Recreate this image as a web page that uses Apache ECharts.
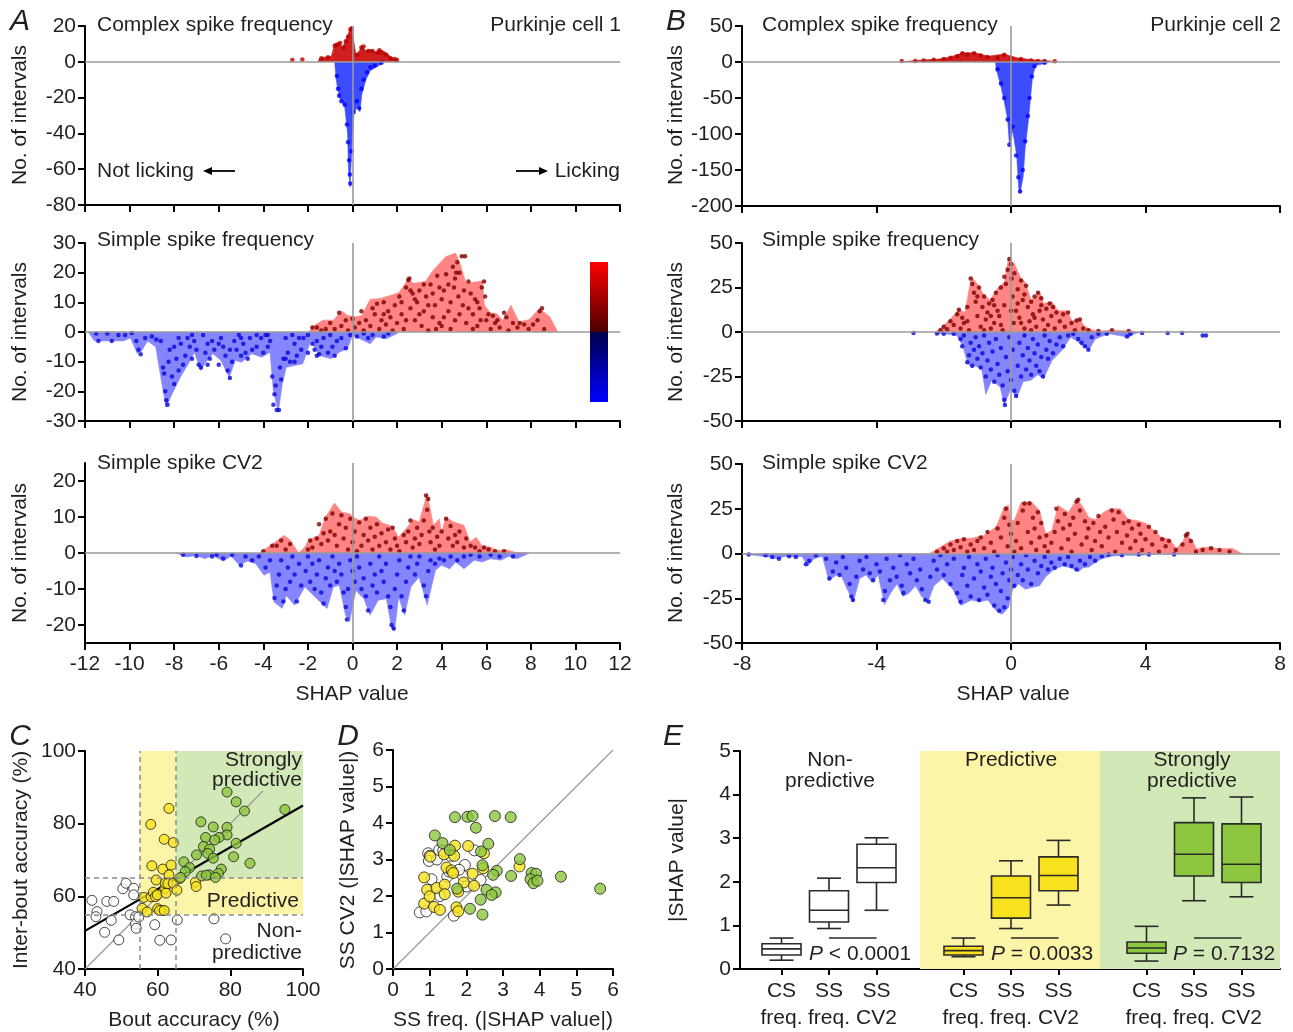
<!DOCTYPE html>
<html>
<head>
<meta charset="utf-8">
<script src="https://cdn.jsdelivr.net/npm/echarts@6/dist/echarts.min.js"></script>
<style>
  html, body { margin: 0; padding: 0; background: #ffffff; }
  #fig { width: 1293px; height: 1032px; }
</style>
</head>
<body>
<div id="fig"></div>
<script>
// ---------- Panel A: Purkinje cell 1 (SHAP value distributions) ----------
const a1RedEdge = [[-1.55,0],[-1.5,1.5],[-1.32,2.5],[-0.95,3],[-0.8,10],[-0.6,11],[-0.45,8],[-0.3,12],[-0.15,17],[-0.05,20],[0.05,12],[0.15,4],[0.3,6],[0.42,9],[0.6,6],[0.79,7],[1.06,5],[1.25,7],[1.52,5],[1.7,3],[1.89,1.5],[2.07,0]];
const a1BlueEdge = [[-0.8,0],[-0.73,-10],[-0.59,-20],[-0.35,-25],[-0.22,-40],[-0.18,-60],[-0.11,-70],[-0.02,-45],[0.07,-28],[0.24,-25],[0.33,-28],[0.42,-18],[0.6,-10],[0.79,-5],[1.06,-3],[1.34,-1],[1.43,0]];
const a1RedDots = [[-2.7,1],[-2.25,1.3],[-1.4,2],[-1.1,2.5],[-0.8,9],[-0.7,9.5],[-0.55,10.5],[-0.4,8],[-0.3,11.5],[-0.2,14],[-0.1,18],[-0.05,18.5],[0.2,4],[0.4,8],[0.5,8.5],[0.7,6],[0.9,6],[1.1,5],[1.2,6.5],[1.3,5],[1.5,4],[1.7,2],[1.9,1.5],[2.0,1]];
const a1BlueDots = [[-0.7,-8],[-0.65,-15],[-0.6,-19],[-0.5,-22],[-0.35,-24],[-0.25,-35],[-0.2,-45],[-0.15,-55],[-0.12,-63],[-0.1,-68],[-0.05,-50],[0.05,-28],[0.2,-22],[0.3,-26],[0.4,-15],[0.5,-10],[0.65,-6],[0.8,-3],[1.0,-2],[1.3,-0.5]];

const a2RedEdge = [[-1.96,0],[-1.78,1.9],[-1.32,4],[-0.86,4],[-0.49,7.1],[-0.22,5.6],[0.15,5.1],[0.42,5.6],[0.79,11],[1.25,11.3],[2.07,13.2],[2.53,18.1],[2.71,16.4],[3.26,17],[3.63,20.9],[4.18,25.4],[4.63,26.6],[4.82,23.2],[5.09,16.4],[5.82,17.2],[5.92,9],[6.19,6.4],[6.47,6.2],[6.74,4],[7.11,9],[7.47,3.4],[7.93,4.2],[8.39,7.9],[8.85,5.1],[9.21,0]];
const a2BlueEdge = [[-11.85,0],[-11.58,-3],[-10.29,-3],[-9.96,-2],[-9.65,-7.3],[-9.47,-6.5],[-9.19,-3],[-8.83,-5],[-8.37,-25.4],[-8.1,-21],[-7.73,-15.3],[-7.36,-10.7],[-7.09,-6.8],[-6.81,-13],[-6.63,-10.7],[-6.26,-7.3],[-5.9,-9.6],[-5.53,-15.3],[-5.26,-9.6],[-4.98,-10.2],[-4.52,-7.3],[-4.07,-8.5],[-3.7,-6.8],[-3.55,-19.8],[-3.33,-27],[-3.15,-17.5],[-2.97,-11.9],[-2.23,-10.7],[-1.87,-2.8],[-1.5,-7.9],[-0.95,-9],[-0.59,-6.8],[-0.22,-5.6],[0,-1.1],[0.33,-2.3],[0.79,-4],[1.06,-1.7],[1.52,-2.3],[1.98,-0.6],[2.07,0]];
const a2RedDots = [[-1.8,1.5],[-1.6,1.5],[-1.4,0.5],[-1.2,1],[-1.0,3],[-0.8,1],[-0.6,6.5],[-0.5,2],[-0.3,4],[-0.2,0.5],[0.0,4.5],[0.1,1.5],[0.3,3],[0.4,7],[0.5,0.5],[0.6,4],[0.8,2],[0.9,8],[1.0,6],[1.1,9.5],[1.2,1],[1.3,4],[1.4,10],[1.4,6],[1.5,2.5],[1.6,7],[1.7,5],[1.8,0.5],[1.9,9],[2.0,3],[2.1,12],[2.2,6],[2.2,10],[2.3,1],[2.4,15],[2.4,4],[2.5,17.5],[2.55,18],[2.6,8],[2.6,14],[2.7,13],[2.8,4],[2.8,11],[2.9,10],[3.0,14],[3.0,6],[3.1,2],[3.2,7],[3.2,16],[3.3,12],[3.4,0.5],[3.4,9],[3.5,16],[3.6,5],[3.6,13],[3.7,9],[3.75,1],[3.8,19],[3.9,3],[3.9,15],[4.0,11],[4.0,2],[4.1,14],[4.1,5],[4.2,19.5],[4.3,7],[4.3,16],[4.4,1],[4.4,10],[4.5,22],[4.55,15],[4.6,4],[4.6,18],[4.65,20],[4.7,23.5],[4.75,12],[4.8,20],[4.8,6],[4.9,25.5],[4.95,9],[5.0,14],[5.05,25.5],[5.1,3],[5.2,17],[5.2,8],[5.3,13],[5.4,6],[5.4,1],[5.5,11],[5.6,2],[5.6,10],[5.7,8],[5.75,4],[5.8,15],[5.9,17],[5.95,12],[6.0,4],[6.1,6],[6.2,1],[6.3,5.5],[6.4,3],[6.5,4],[6.6,1.5],[6.8,6.5],[6.9,5],[7.0,0.5],[7.2,3],[7.4,1.5],[7.5,3],[7.7,2.5],[7.9,1],[8.1,2.5],[8.3,4],[8.4,7],[8.5,8],[8.6,1]];
const a2BlueDots = [[-11.5,-0.5],[-11.4,-3],[-11.0,-0.5],[-10.8,-3],[-10.5,-1],[-10.2,-1],[-9.9,-0.3],[-9.7,-3],[-9.6,-6],[-9.5,-7.5],[-9.3,-2],[-9.0,-1.5],[-8.8,-2.5],[-8.6,-3],[-8.5,-12],[-8.45,-14],[-8.4,-20],[-8.35,-23],[-8.3,-24.5],[-8.25,-10],[-8.2,-6],[-8.1,-15],[-8.0,-17.5],[-8.0,-5],[-7.9,-9],[-7.8,-13],[-7.8,-2],[-7.7,-4],[-7.6,-11],[-7.5,-8],[-7.4,-2],[-7.3,-5],[-7.2,-9],[-7.2,-1],[-7.1,-3],[-7.0,-6],[-6.9,-11],[-6.8,-12],[-6.7,-1],[-6.6,-7],[-6.5,-4],[-6.5,-11],[-6.4,-9],[-6.3,-3],[-6.2,-6],[-6.0,-11],[-6.0,-4],[-5.9,-2],[-5.8,-5],[-5.7,-8],[-5.6,-13],[-5.5,-15.5],[-5.5,-6],[-5.4,-10],[-5.3,-3],[-5.2,-6],[-5.1,-1],[-5.0,-8],[-5.0,-2],[-4.9,-4],[-4.8,-7],[-4.7,-9],[-4.6,-2],[-4.5,-6],[-4.3,-5],[-4.3,-1],[-4.1,-2],[-4.0,-7],[-3.9,-1],[-3.8,-5],[-3.8,-1],[-3.7,-3],[-3.6,-15],[-3.55,-24.5],[-3.5,-21],[-3.45,-18],[-3.4,-26.3],[-3.3,-26.3],[-3.25,-12],[-3.2,-16],[-3.1,-9],[-3.0,-2],[-3.0,-9],[-2.9,-7],[-2.8,-10],[-2.7,-1],[-2.6,-4],[-2.6,-10],[-2.5,-8],[-2.4,-2],[-2.3,-6],[-2.2,-2],[-2.0,-1],[-2.0,-7],[-1.8,-4],[-1.7,-6],[-1.6,-8],[-1.6,-3],[-1.5,-7.5],[-1.4,-5],[-1.3,-2],[-1.1,-7],[-1.0,-1],[-0.9,-5],[-0.8,-8],[-0.7,-3],[-0.5,-2],[-0.3,-5.5],[-0.1,-1],[0.2,-1.5],[0.5,-0.5],[0.7,-2],[0.9,-1],[1.4,-1.5],[1.6,-0.5]];

const a3RedEdge = [[-4.16,0],[-3.97,0.9],[-3.61,2.4],[-3.06,4.9],[-2.78,3.5],[-2.42,0],[-2.14,1.7],[-1.96,3.7],[-1.5,4.9],[-1.23,9.8],[-0.81,13.9],[-0.49,11.4],[-0.13,10.9],[0.15,9.5],[0.33,9.1],[0.7,10.2],[1.06,10],[1.34,8.3],[1.79,7.4],[2.07,4.4],[2.44,7],[2.71,9.3],[2.99,8.6],[3.35,16.5],[3.63,7.7],[3.9,9.5],[3.99,5.4],[4.18,10],[4.54,8.6],[5.0,7.7],[5.27,3.1],[5.55,4.4],[5.82,1.9],[6.19,1.7],[6.47,0.7],[6.92,0.9],[7.29,0.2],[7.93,0]];
const a3BlueEdge = [[-7.91,0],[-7.45,-1.1],[-7.0,-0.7],[-6.63,-1.6],[-6.26,-0.7],[-5.81,-2.2],[-5.44,-0.9],[-5.07,-3.4],[-4.71,-2.2],[-4.34,-3],[-3.97,-6.2],[-3.7,-5.3],[-3.52,-13.6],[-3.15,-15.4],[-2.97,-11.8],[-2.6,-14.5],[-2.14,-9.4],[-1.68,-12.2],[-1.14,-15.4],[-0.86,-9.4],[-0.59,-9],[-0.31,-17.3],[-0.13,-19.1],[0.15,-10.4],[0.51,-12.7],[0.79,-17.3],[1.15,-13.1],[1.52,-12.7],[1.76,-21],[1.89,-21.5],[2.07,-12.2],[2.34,-17.3],[2.62,-9.4],[2.99,-6.7],[3.35,-14.5],[3.72,-4.8],[3.99,-3.4],[4.36,-4.4],[4.63,-2.5],[5.0,-4.4],[5.46,-2],[5.82,-2.5],[6.19,-1.6],[6.65,-2],[7.01,-0.9],[7.38,-1.6],[7.93,0]];
const a3RedDots = [[-4.0,0.5],[-3.6,2],[-3.4,2],[-3.2,3.5],[-3.0,1],[-2.8,2.5],[-2.0,1],[-1.9,3.5],[-1.8,1.5],[-1.6,4],[-1.5,8],[-1.4,2.5],[-1.3,5.5],[-1.2,9.5],[-1.1,3.5],[-1.0,6],[-0.9,11],[-0.8,5],[-0.7,2],[-0.6,8],[-0.5,10.5],[-0.4,4],[-0.3,7],[-0.2,1],[-0.1,9.5],[0.0,3],[0.1,6],[0.2,0.5],[0.3,8.5],[0.4,2],[0.5,5],[0.6,9.5],[0.7,3.5],[0.8,7],[0.9,1],[1.0,4.5],[1.1,8],[1.2,2],[1.3,5.5],[1.5,3],[1.6,6.5],[1.7,1],[1.8,7],[1.9,4],[2.0,2],[2.1,0.5],[2.3,5],[2.4,3],[2.5,6],[2.6,9],[2.7,1.5],[2.8,4],[2.9,7],[3.0,2.5],[3.1,5],[3.2,9],[3.3,16],[3.35,12],[3.4,15],[3.45,6],[3.5,3],[3.6,7],[3.7,1],[3.8,4.5],[3.9,2],[4.0,6],[4.2,9.5],[4.3,4],[4.4,7.5],[4.5,2],[4.6,5],[4.7,3],[4.8,6],[5.0,1.5],[5.1,4],[5.3,2],[5.5,1.5],[5.7,0.5],[5.9,1.5],[6.1,1],[6.4,0.5],[6.8,0.5]];
const a3BlueDots = [[-7.6,-0.5],[-7.0,-0.8],[-6.3,-1],[-6.1,-0.5],[-5.8,-1.5],[-5.4,-0.5],[-5.0,-3.5],[-4.8,-1],[-4.5,-2],[-4.2,-1],[-3.9,-4],[-3.7,-2],[-3.5,-12.5],[-3.4,-9],[-3.3,-6],[-3.2,-2],[-3.1,-13.5],[-3.0,-10],[-2.9,-4],[-2.8,-8],[-2.7,-1],[-2.6,-6],[-2.5,-13.5],[-2.4,-3],[-2.3,-9],[-2.1,-5],[-2.0,-1],[-1.9,-8],[-1.8,-3],[-1.7,-10],[-1.6,-6],[-1.5,-2],[-1.4,-11],[-1.3,-14],[-1.2,-7],[-1.1,-4],[-1.0,-9],[-0.9,-1],[-0.8,-5],[-0.7,-8],[-0.6,-3],[-0.5,-6],[-0.4,-11],[-0.3,-15],[-0.25,-18.5],[-0.2,-10],[-0.1,-2],[0.0,-5],[0.1,-8],[0.2,-1],[0.3,-4],[0.4,-10],[0.5,-7],[0.6,-12],[0.7,-16],[0.8,-3],[0.9,-9],[1.0,-6],[1.1,-11],[1.2,-1],[1.3,-5],[1.4,-8],[1.5,-3],[1.6,-12],[1.7,-15],[1.75,-20],[1.85,-21],[1.9,-10],[2.0,-6],[2.1,-2],[2.2,-12],[2.3,-16],[2.4,-8],[2.5,-4],[2.6,-1],[2.8,-6],[2.9,-3],[3.0,-1],[3.2,-9],[3.3,-12],[3.4,-5],[3.5,-2],[3.7,-3],[3.9,-1.5],[4.1,-2],[4.4,-1],[4.7,-2],[5.0,-1],[5.3,-0.5],[5.7,-1],[6.2,-0.5],[6.6,-1],[7.2,-1]];

// ---------- Panel B: Purkinje cell 2 ----------
const b1RedEdge = [[-3.3,0],[-3.25,1.5],[-2.84,2],[-2.53,3],[-2.16,4],[-1.8,7],[-1.43,13],[-1.06,13],[-0.69,8],[-0.2,11],[0.17,6],[0.66,3],[1.0,2],[1.28,1],[1.32,0]];
const b1BlueEdge = [[-0.46,0],[-0.44,-10],[-0.32,-30],[-0.2,-55],[-0.1,-80],[-0.04,-118],[0.05,-95],[0.17,-130],[0.23,-175],[0.27,-182],[0.36,-160],[0.42,-120],[0.52,-80],[0.57,-55],[0.64,-20],[0.73,-5],[1.09,-1],[1.12,0]];
const b1RedDots = [[-3.25,1.5],[-2.85,1.5],[-2.6,2],[-2.3,3],[-2.0,4],[-1.8,6],[-1.6,8],[-1.45,12],[-1.3,10],[-1.1,12],[-0.9,9],[-0.7,7],[-0.4,6],[-0.2,10],[0.0,5],[0.3,4],[0.6,2],[0.8,1.5],[1.0,1.5],[1.3,1]];
const b1BlueDots = [[-0.4,-10],[-0.3,-30],[-0.2,-50],[-0.1,-80],[-0.05,-115],[0.05,-90],[0.15,-130],[0.22,-160],[0.27,-180],[0.35,-150],[0.42,-110],[0.5,-75],[0.55,-50],[0.62,-20],[0.7,-6],[1.0,-1]];

const b2RedEdge = [[-2.23,0],[-2.04,3],[-1.8,7.5],[-1.55,12.5],[-1.37,11],[-1.18,31],[-1.0,27],[-0.81,21],[-0.63,18],[-0.38,25],[-0.2,28],[-0.07,42],[0.11,38],[0.3,30],[0.42,28],[0.6,18],[0.73,20],[0.85,23],[0.97,16],[1.22,17],[1.4,12],[1.65,12],[1.83,6],[2.02,7.5],[2.2,3],[2.45,1],[2.63,0.5],[3.06,1],[3.62,0.5],[3.7,0]];
const b2BlueEdge = [[-2.29,0],[-2.23,-1],[-1.98,-1],[-1.61,-2],[-1.43,-8],[-1.3,-17],[-1.18,-20],[-1.06,-19],[-0.87,-21],[-0.75,-35],[-0.57,-27],[-0.32,-31],[-0.2,-41],[-0.01,-32],[0.17,-37],[0.36,-28],[0.6,-27],[0.79,-24],[0.97,-26],[1.22,-16],[1.53,-10],[1.77,-3],[1.96,-5],[2.14,-8],[2.32,-10],[2.51,-4],[2.76,-2],[2.94,-1],[3.49,-3],[3.68,-1],[3.86,0]];
const b2RedDots = [[-2.1,1],[-2.0,3],[-1.9,1.5],[-1.8,6],[-1.7,4],[-1.6,10],[-1.55,12.5],[-1.5,2],[-1.45,8],[-1.4,5],[-1.3,14],[-1.3,6],[-1.25,1],[-1.2,30],[-1.15,27],[-1.1,22],[-1.05,17],[-1.0,9],[-1.0,20],[-0.95,25],[-0.9,3],[-0.85,14],[-0.8,20],[-0.8,1],[-0.75,7],[-0.7,11],[-0.65,16],[-0.6,2],[-0.6,9],[-0.55,18],[-0.5,5],[-0.5,15],[-0.45,22],[-0.4,12],[-0.35,9],[-0.3,25],[-0.3,4],[-0.25,1],[-0.2,15],[-0.2,31],[-0.15,27],[-0.1,35],[-0.05,41],[0.0,38],[0.0,12],[0.02,30],[0.05,20],[0.08,5],[0.1,33],[0.15,12],[0.2,24],[0.2,16],[0.25,8],[0.3,29],[0.3,5],[0.35,18],[0.4,2],[0.4,21],[0.45,26],[0.5,14],[0.55,6],[0.6,17],[0.6,1],[0.65,10],[0.7,20],[0.7,8],[0.75,3],[0.8,22],[0.85,12],[0.9,15],[0.9,19],[0.95,7],[1.0,1],[1.05,13],[1.1,4],[1.15,16],[1.2,9],[1.25,14],[1.3,2],[1.35,11],[1.45,6],[1.55,10],[1.6,3],[1.7,11],[1.8,5],[1.9,1],[1.95,6.5],[2.05,7],[2.15,2],[2.3,1],[2.6,0.5],[3.0,1],[3.5,0.5]];
const b2BlueDots = [[-2.9,-0.5],[-2.2,-0.8],[-2.0,-1],[-1.7,-1],[-1.5,-4],[-1.45,-8],[-1.4,-2],[-1.3,-17],[-1.25,-13],[-1.2,-6],[-1.15,-19],[-1.1,-10],[-1.05,-3],[-1.0,-15],[-0.95,-8],[-0.9,-20],[-0.85,-12],[-0.8,-2],[-0.75,-25],[-0.7,-16],[-0.65,-6],[-0.6,-21],[-0.55,-11],[-0.5,-28],[-0.45,-4],[-0.4,-18],[-0.35,-24],[-0.3,-9],[-0.25,-30],[-0.2,-38],[-0.18,-41],[-0.15,-14],[-0.1,-22],[-0.05,-3],[0.0,-27],[0.05,-10],[0.1,-33],[0.15,-36],[0.2,-19],[0.25,-6],[0.3,-25],[0.35,-13],[0.4,-2],[0.45,-21],[0.5,-9],[0.55,-16],[0.6,-24],[0.65,-4],[0.7,-12],[0.75,-19],[0.8,-7],[0.85,-22],[0.9,-14],[0.95,-25],[1.0,-2],[1.05,-10],[1.1,-15],[1.15,-5],[1.25,-12],[1.35,-7],[1.45,-3],[1.55,-8],[1.7,-2],[1.85,-1],[2.0,-4],[2.1,-6],[2.2,-8],[2.3,-10],[2.4,-3],[2.6,-1],[2.85,-1],[3.45,-2.5],[3.55,-1],[3.9,-0.5],[4.66,-0.5],[5.09,-0.5],[5.7,-2],[5.8,-2]];

const b3RedEdge = [[-2.41,0],[-2.29,1.5],[-1.8,7],[-1.43,8.5],[-1.18,8.5],[-0.81,10],[-0.44,15],[-0.2,26],[-0.07,27],[-0.01,18],[0.11,19],[0.3,28.5],[0.6,29],[0.85,24],[1.03,11],[1.22,13],[1.4,27],[1.71,23],[1.96,30.5],[2.14,26],[2.32,20],[2.51,19],[2.76,23],[2.94,25],[3.25,25],[3.49,19],[3.74,18.5],[3.99,17],[4.23,13],[4.48,9],[4.72,8],[4.91,3],[5.09,6],[5.22,11],[5.4,7],[5.52,2.5],[5.71,3.5],[5.95,3.5],[6.2,2.5],[6.57,3],[6.81,0.5],[6.87,0]];
const b3BlueEdge = [[-8.0,0],[-7.82,-0.5],[-7.21,-2],[-6.96,-3],[-6.72,-1.5],[-6.35,-2],[-6.22,-1.5],[-6.04,-7],[-5.86,-3],[-5.61,-1.5],[-5.42,-15],[-5.18,-12],[-5.06,-12],[-4.87,-20],[-4.69,-27],[-4.5,-14],[-4.32,-12],[-4.13,-16],[-3.95,-12],[-3.76,-28.5],[-3.58,-22],[-3.39,-17],[-3.21,-24],[-3.03,-22],[-2.84,-18],[-2.66,-24],[-2.47,-27],[-2.29,-18],[-2.04,-14],[-1.73,-20],[-1.49,-29],[-1.18,-26],[-0.93,-27],[-0.69,-26],[-0.44,-32],[-0.26,-34],[-0.07,-30],[0.05,-20],[0.23,-17],[0.42,-20],[0.6,-19],[0.85,-18],[1.03,-13],[1.28,-9],[1.53,-7],[1.77,-8],[2.02,-10],[2.14,-8],[2.32,-7.5],[2.51,-5],[2.69,-3],[3.0,-1.5],[3.37,-1],[3.86,-1],[4.17,-0.5],[4.85,-0.3],[4.95,0]];
const b3RedDots = [[-2.2,1],[-2.0,3],[-1.9,1],[-1.8,5],[-1.7,2],[-1.6,7],[-1.5,3.5],[-1.4,8],[-1.3,1],[-1.2,5],[-1.1,2],[-1.0,7],[-0.9,9],[-0.8,3],[-0.7,12],[-0.6,6],[-0.5,1],[-0.4,14],[-0.3,9],[-0.2,20],[-0.15,25],[-0.1,4],[-0.05,16],[0.0,11],[0.1,1],[0.15,7],[0.2,17],[0.3,3],[0.35,24],[0.4,28],[0.5,12],[0.55,28],[0.6,6],[0.65,20],[0.7,14],[0.75,2],[0.8,23],[0.85,9],[0.9,17],[1.0,4],[1.05,10],[1.1,1],[1.2,6],[1.3,12],[1.35,25],[1.4,18],[1.5,3],[1.55,14],[1.6,22],[1.7,8],[1.75,16],[1.8,1],[1.85,20],[1.9,11],[1.95,29],[2.0,30],[2.05,24],[2.1,5],[2.2,18],[2.25,9],[2.3,14],[2.4,2],[2.45,17],[2.5,7],[2.6,21],[2.65,12],[2.7,4],[2.8,15],[2.9,9],[3.0,24],[3.05,19],[3.1,1],[3.15,12],[3.2,23],[3.3,6],[3.35,17],[3.45,10],[3.5,18],[3.55,3],[3.6,14],[3.7,7],[3.8,16],[3.85,11],[3.9,2],[4.0,8],[4.1,15],[4.2,5],[4.3,12],[4.4,1],[4.5,8],[4.6,4],[4.7,7],[4.9,2],[5.1,5],[5.2,10],[5.25,11],[5.35,7],[5.5,1],[5.7,2],[5.95,3],[6.2,2],[6.5,1]];
const b3BlueDots = [[-7.8,-0.5],[-7.3,-1],[-7.1,-2],[-6.9,-3],[-6.6,-1.5],[-6.4,-2],[-6.1,-6],[-6.0,-4],[-5.8,-1],[-5.5,-3],[-5.4,-14],[-5.3,-10],[-5.2,-5],[-5.1,-12],[-5.0,-2],[-4.9,-8],[-4.8,-17],[-4.75,-24],[-4.7,-26],[-4.6,-13],[-4.5,-4],[-4.4,-9],[-4.3,-2],[-4.2,-11],[-4.1,-15],[-4.0,-6],[-3.9,-10],[-3.8,-26],[-3.75,-21],[-3.7,-3],[-3.6,-15],[-3.5,-8],[-3.4,-13],[-3.3,-1],[-3.25,-18],[-3.2,-22],[-3.1,-6],[-3.0,-11],[-2.9,-3],[-2.8,-15],[-2.7,-9],[-2.65,-20],[-2.55,-26],[-2.45,-27],[-2.4,-13],[-2.3,-4],[-2.2,-9],[-2.1,-1],[-2.0,-12],[-1.9,-6],[-1.8,-17],[-1.7,-3],[-1.6,-22],[-1.5,-27],[-1.45,-12],[-1.4,-8],[-1.3,-18],[-1.25,-2],[-1.2,-24],[-1.1,-14],[-1.0,-6],[-0.95,-26],[-0.9,-10],[-0.8,-19],[-0.75,-3],[-0.7,-23],[-0.6,-13],[-0.55,-8],[-0.5,-29],[-0.45,-17],[-0.4,-1],[-0.35,-32],[-0.3,-21],[-0.25,-11],[-0.2,-30],[-0.15,-5],[-0.1,-25],[-0.05,-15],[0.0,-9],[0.05,-2],[0.1,-18],[0.2,-12],[0.3,-6],[0.35,-15],[0.45,-1],[0.5,-9],[0.6,-17],[0.7,-4],[0.8,-11],[0.9,-7],[1.0,-2],[1.1,-9],[1.2,-5],[1.3,-8],[1.45,-3],[1.6,-6],[1.7,-2],[1.8,-7],[1.95,-9],[2.05,-4],[2.2,-6],[2.35,-2],[2.5,-4],[2.7,-1.5],[2.9,-0.5],[3.3,-1],[3.8,-0.5],[4.1,-0.5],[4.85,-0.5]];

// ---------- Panel C: inter-bout vs bout accuracy (%) ----------
const classBounds = [55, 65];
const cNonPredictive = [[41.9,58.9],[43.3,55.8],[43.0,54.4],[45.4,50.1],[46.0,58.6],[47.9,58.6],[47.2,53.4],[49.3,48.0],[50.4,62.1],[51.3,63.6],[52.4,54.9],[53.4,62.2],[53.4,60.4],[53.9,54.4],[53.9,52.4],[54.1,51.2],[54.8,54.3],[59.2,52.2],[60.6,47.9],[63.7,48.0],[65.4,53.5],[75.5,53.8],[78.7,48.3]];
const cPredictive = [[58.1,79.8],[58.4,68.4],[63.1,84.2],[61.8,75.7],[64.3,74.8],[61.4,67.5],[63.7,68.6],[59.6,64.5],[63.1,65.9],[56.2,59.7],[58.2,59.9],[58.8,61.1],[59.4,59.9],[59.9,60.4],[62.0,62.2],[62.3,60.9],[62.1,63.6],[62.8,63.5],[64.3,63.6],[65.3,61.7],[55.7,56.7],[57.1,55.7],[60.0,56.6],[61.1,56.1],[60.5,56.1],[61.8,56.1],[70.4,63.9],[70.6,62.7],[66.1,64.9]];
const cStrong = [[79.1,88.7],[81.6,86.0],[83.9,83.5],[95.0,83.9],[71.9,80.5],[75.3,79.1],[79.1,79.0],[79.1,76.9],[73.2,76.2],[76.9,76.2],[75.7,75.5],[81.6,74.6],[72.6,73.7],[74.3,73.0],[73.8,71.8],[70.7,71.4],[75.3,70.5],[80.9,70.9],[85.4,69.1],[67.2,69.5],[68.8,67.9],[67.6,66.8],[77.5,67.5],[76.7,66.3],[74.2,65.9],[72.1,65.6],[73.4,65.8],[75.9,65.2],[66.3,65.2]];
const cFit = [[40,50.5],[100,85]];
const cIdentity = [[40,40],[89,89]];

// ---------- Panel D: |SHAP| of SS CV2 vs SS frequency ----------
const dNonPredictive = [[0.73,1.55],[0.91,1.58],[0.96,3.17],[1.0,3.1],[0.98,2.96],[1.2,3.0],[1.26,3.26],[1.37,3.24],[1.57,3.1],[1.48,2.53],[1.28,2.0],[1.05,2.46],[1.66,1.46],[1.96,2.85],[1.91,2.55],[2.01,2.26],[2.22,3.25],[2.39,2.44],[1.8,2.72],[1.53,2.67]];
const dPredictive = [[0.85,1.79],[0.85,2.51],[0.93,2.17],[1.0,1.99],[1.02,3.08],[1.12,1.7],[1.19,2.22],[1.28,1.62],[1.39,3.14],[1.41,2.31],[1.41,2.05],[1.46,2.78],[1.6,2.7],[1.64,2.63],[1.69,3.38],[1.67,3.1],[1.73,1.69],[1.78,1.58],[1.78,2.12],[1.93,2.37],[2.05,3.37],[2.17,2.61],[2.21,2.28],[2.48,3.17],[2.46,2.76],[3.45,2.81]];
const dStrong = [[1.69,4.16],[2.03,4.17],[2.17,4.19],[2.78,4.19],[3.21,4.16],[2.26,3.87],[1.14,3.66],[1.35,3.45],[1.55,3.26],[2.6,3.43],[2.4,3.22],[2.44,2.84],[3.46,3.01],[2.83,2.69],[2.73,2.58],[3.22,2.55],[2.55,2.17],[2.8,2.1],[2.69,2.03],[1.75,2.2],[2.1,1.65],[2.44,1.49],[2.39,1.9],[3.78,2.63],[3.9,2.61],[3.75,2.46],[3.83,2.35],[3.94,2.42],[4.58,2.53],[5.65,2.2]];
const dIdentity = [[0,0],[6,6]];

// ---------- Panel E: |SHAP value| per feature and cell class ----------
// each box: [min, Q1, median, Q3, max]
const eFeatures = ['CS\nfreq.', 'SS\nfreq.', 'SS\nCV2'];
const eClasses = ['Non-\npredictive', 'Predictive', 'Strongly\npredictive'];
const eBoxNon = [[0.18,0.30,0.44,0.56,0.69],[0.91,1.06,1.33,1.78,2.07],[1.33,1.97,2.31,2.85,3.00]];
const eBoxPred = [[0.26,0.30,0.40,0.50,0.69],[0.91,1.15,1.62,2.12,2.47],[1.45,1.78,2.13,2.56,2.94]];
const eBoxStrong = [[0.16,0.34,0.46,0.60,0.96],[1.55,2.12,2.62,3.35,3.92],[1.64,1.97,2.39,3.32,3.94]];
const ePValues = ['< 0.0001', '= 0.0033', '= 0.7132'];
const eBarLevel = 0.69;

// ---------- styling ----------
const FONT = '"Liberation Sans", Arial, Helvetica, sans-serif';
const INK = '#231f20';
const FS = 21;
const YELLOW_BG = '#fcf4a6';
const GREEN_BG = '#d2e8b6';
const YELLOW_PT = '#f7e21d';
const GREEN_PT = '#8dc63f';

const chart = echarts.init(document.getElementById('fig'), null, { renderer: 'canvas' });

const grids = [
  { left: 85, width: 535, top: 26, height: 179 },   // 0 A1
  { left: 85, width: 535, top: 243, height: 178 },  // 1 A2
  { left: 85, width: 535, top: 463, height: 180 },  // 2 A3
  { left: 742, width: 538, top: 26, height: 180 },  // 3 B1
  { left: 742, width: 538, top: 243, height: 178 }, // 4 B2
  { left: 742, width: 538, top: 464, height: 179 }, // 5 B3
  { left: 85, width: 218, top: 751, height: 218 },  // 6 C
  { left: 393, width: 220, top: 750, height: 219 }, // 7 D
  { left: 740, width: 540, top: 751, height: 218 }, // 8 E frame
  { left: 757.75, width: 142.5, top: 751, height: 218 }, // 9 E non-predictive
  { left: 939.75, width: 142.5, top: 751, height: 218 }, // 10 E predictive
  { left: 1122.75, width: 142.5, top: 751, height: 218 } // 11 E strongly predictive
];

const axisLineStyle = { color: '#000', width: 2 };
const labelStyle = { fontSize: FS, color: INK, fontFamily: FONT };

function valueX(grid, min, max, interval, showLabels) {
  return {
    type: 'value', gridIndex: grid, min, max, interval,
    axisLine: { show: true, onZero: false, lineStyle: axisLineStyle },
    axisTick: { show: true, length: 7, lineStyle: axisLineStyle },
    axisLabel: Object.assign({ show: showLabels, margin: 11 }, labelStyle),
    splitLine: { show: false }
  };
}
function valueY(grid, min, max, interval, custom) {
  const ax = {
    type: 'value', gridIndex: grid, min, max, interval,
    axisLine: { show: true, onZero: false, lineStyle: axisLineStyle },
    axisTick: { show: true, length: 7, lineStyle: axisLineStyle },
    axisLabel: Object.assign({ show: true, margin: 9 }, labelStyle),
    splitLine: { show: false }
  };
  if (custom) {
    ax.axisTick.customValues = custom;
    ax.axisLabel.customValues = custom;
  }
  return ax;
}

const xAxes = [
  valueX(0, -12, 12, 2, false),
  valueX(1, -12, 12, 2, false),
  valueX(2, -12, 12, 2, true),
  valueX(3, -8, 8, 4, false),
  valueX(4, -8, 8, 4, false),
  valueX(5, -8, 8, 4, true),
  valueX(6, 40, 100, 20, true),
  valueX(7, 0, 6, 1, true),
  { type: 'value', gridIndex: 8, min: 0, max: 3,
    axisLine: { show: true, onZero: false, lineStyle: axisLineStyle },
    axisTick: { show: false }, axisLabel: { show: false }, splitLine: { show: false } }
];
const yAxes = [
  valueY(0, -80, 20, 20),
  valueY(1, -30, 30, 10),
  valueY(2, -25, 25, 10, [-20, -10, 0, 10, 20]),
  valueY(3, -200, 50, 50),
  valueY(4, -50, 50, 25),
  valueY(5, -50, 50, 25),
  valueY(6, 40, 100, 20),
  valueY(7, 0, 6, 1),
  valueY(8, 0, 5, 1)
];
for (let g = 9; g <= 11; g++) {
  xAxes.push({
    type: 'category', gridIndex: g, data: eFeatures, boundaryGap: true,
    axisLine: { show: false },
    axisTick: { show: true, alignWithLabel: true, interval: 0, length: 7, lineStyle: axisLineStyle },
    axisLabel: Object.assign({ margin: 10, lineHeight: 27, interval: 0, hideOverlap: false }, labelStyle),
    splitLine: { show: false }
  });
  yAxes.push({ type: 'value', gridIndex: g, min: 0, max: 5, show: false, splitLine: { show: false } });
}

const series = [];

// SHAP distribution panels
const shapPanels = [
  { grid: 0, red: a1RedEdge, blue: a1BlueEdge, redDots: a1RedDots, blueDots: a1BlueDots, dense: true },
  { grid: 1, red: a2RedEdge, blue: a2BlueEdge, redDots: a2RedDots, blueDots: a2BlueDots, dense: false },
  { grid: 2, red: a3RedEdge, blue: a3BlueEdge, redDots: a3RedDots, blueDots: a3BlueDots, dense: false },
  { grid: 3, red: b1RedEdge, blue: b1BlueEdge, redDots: b1RedDots, blueDots: b1BlueDots, dense: true },
  { grid: 4, red: b2RedEdge, blue: b2BlueEdge, redDots: b2RedDots, blueDots: b2BlueDots, dense: false },
  { grid: 5, red: b3RedEdge, blue: b3BlueEdge, redDots: b3RedDots, blueDots: b3BlueDots, dense: false }
];
shapPanels.forEach(p => {
  const redFill = p.dense ? '#cf1f1f' : '#ff8585';
  const blueFill = p.dense ? '#3e4cff' : '#8585ff';
  const redDot = p.dense ? '#b80000' : '#7d0000';
  const blueDot = p.dense ? '#0000ff' : '#0606dc';
  [[p.red, redFill], [p.blue, blueFill]].forEach(([edge, fill]) => {
    series.push({
      type: 'line', xAxisIndex: p.grid, yAxisIndex: p.grid, data: edge,
      showSymbol: false, symbol: 'none', smooth: false, silent: true, z: 1,
      lineStyle: { width: 0.6, color: fill }, areaStyle: { color: fill, opacity: 1 }
    });
  });
  series.push({
    type: 'line', xAxisIndex: p.grid, yAxisIndex: p.grid, data: [], silent: true, z: 2,
    markLine: {
      silent: true, symbol: ['none', 'none'], label: { show: false },
      lineStyle: { color: '#9a9a9a', width: 1.6, type: 'solid' },
      data: [{ yAxis: 0 }, { xAxis: 0 }]
    }
  });
  series.push({
    type: 'scatter', xAxisIndex: p.grid, yAxisIndex: p.grid, data: p.redDots,
    symbolSize: 4.5, silent: true, z: 3, itemStyle: { color: redDot }
  });
  series.push({
    type: 'scatter', xAxisIndex: p.grid, yAxisIndex: p.grid, data: p.blueDots,
    symbolSize: 4.5, silent: true, z: 3, itemStyle: { color: blueDot }
  });
});

// Panel C
const [lo, hi] = classBounds;
series.push({
  type: 'scatter', xAxisIndex: 6, yAxisIndex: 6, data: [], silent: true, z: 0,
  markArea: {
    silent: true,
    data: [
      [{ coord: [lo, lo], itemStyle: { color: YELLOW_BG } }, { coord: [hi, 100] }],
      [{ coord: [hi, lo], itemStyle: { color: YELLOW_BG } }, { coord: [100, hi] }],
      [{ coord: [hi, hi], itemStyle: { color: GREEN_BG } }, { coord: [100, 100] }]
    ]
  },
  markLine: {
    silent: true, symbol: ['none', 'none'], label: { show: false },
    lineStyle: { color: '#8c8c8c', width: 1.5, type: [5, 4] },
    data: [{ xAxis: lo }, { xAxis: hi }, { yAxis: lo }, { yAxis: hi }]
  }
});
series.push({
  type: 'line', xAxisIndex: 6, yAxisIndex: 6, data: cIdentity, symbol: 'none', silent: true, z: 2,
  lineStyle: { color: '#9a9a9a', width: 1.2 }
});
series.push({
  type: 'line', xAxisIndex: 6, yAxisIndex: 6, data: cFit, symbol: 'none', silent: true, z: 3,
  lineStyle: { color: '#000', width: 2.2 }
});
[[cNonPredictive, '#ffffff'], [cPredictive, YELLOW_PT], [cStrong, GREEN_PT]].forEach(([pts, col]) => {
  series.push({
    type: 'scatter', xAxisIndex: 6, yAxisIndex: 6, data: pts, symbolSize: 10, silent: true, z: 4,
    itemStyle: { color: col, borderColor: '#1a1a1a', borderWidth: 1 }
  });
});

// Panel D
series.push({
  type: 'line', xAxisIndex: 7, yAxisIndex: 7, data: dIdentity, symbol: 'none', silent: true, z: 2,
  lineStyle: { color: '#9a9a9a', width: 1.2 }
});
[[dNonPredictive, '#ffffff'], [dPredictive, YELLOW_PT], [dStrong, GREEN_PT]].forEach(([pts, col]) => {
  series.push({
    type: 'scatter', xAxisIndex: 7, yAxisIndex: 7, data: pts, symbolSize: 11, silent: true, z: 4,
    itemStyle: { color: col, borderColor: '#1a1a1a', borderWidth: 1 }
  });
});

// Panel E backgrounds
series.push({
  type: 'scatter', xAxisIndex: 8, yAxisIndex: 8, data: [], silent: true, z: 0,
  markArea: {
    silent: true,
    data: [
      [{ xAxis: 1, yAxis: 0, itemStyle: { color: YELLOW_BG } }, { xAxis: 2, yAxis: 5 }],
      [{ xAxis: 2, yAxis: 0, itemStyle: { color: GREEN_BG } }, { xAxis: 3, yAxis: 5 }]
    ]
  }
});

function boxRenderer(fill) {
  return function (params, api) {
    const i = api.value(0);
    const pMin = api.coord([i, api.value(1)]);
    const pQ1 = api.coord([i, api.value(2)]);
    const pMed = api.coord([i, api.value(3)]);
    const pQ3 = api.coord([i, api.value(4)]);
    const pMax = api.coord([i, api.value(5)]);
    const x = pMin[0];
    const hw = 19.5, cw = 12;
    const ls = { stroke: '#2a2a2a', lineWidth: 1.6 };
    return {
      type: 'group',
      children: [
        { type: 'line', shape: { x1: x, y1: pMax[1], x2: x, y2: pQ3[1] }, style: ls },
        { type: 'line', shape: { x1: x, y1: pQ1[1], x2: x, y2: pMin[1] }, style: ls },
        { type: 'line', shape: { x1: x - cw, y1: pMax[1], x2: x + cw, y2: pMax[1] }, style: ls },
        { type: 'line', shape: { x1: x - cw, y1: pMin[1], x2: x + cw, y2: pMin[1] }, style: ls },
        { type: 'rect', shape: { x: x - hw, y: pQ3[1], width: 2 * hw, height: pQ1[1] - pQ3[1] },
          style: { fill, stroke: '#2a2a2a', lineWidth: 1.6 } },
        { type: 'line', shape: { x1: x - hw, y1: pMed[1], x2: x + hw, y2: pMed[1] }, style: ls }
      ]
    };
  };
}
[[eBoxNon, '#ffffff', 9], [eBoxPred, YELLOW_PT, 10], [eBoxStrong, GREEN_PT, 11]].forEach(([boxes, fill, g]) => {
  series.push({
    type: 'custom', xAxisIndex: g, yAxisIndex: g, silent: true, z: 3,
    encode: { x: 0, y: [1, 2, 3, 4, 5] },
    data: boxes.map((b, i) => [i, ...b]),
    renderItem: boxRenderer(fill)
  });
  series.push({
    type: 'line', xAxisIndex: g, yAxisIndex: g, data: [[1, eBarLevel], [2, eBarLevel]],
    symbol: 'none', silent: true, z: 3, lineStyle: { color: '#2a2a2a', width: 1.6 }
  });
});

// ---------- text and decorations ----------
const txt = (x, y, text, opt) => Object.assign({
  type: 'text', x, y, silent: true, z: 50,
  style: Object.assign({ text, fill: INK, font: FS + 'px ' + FONT, textAlign: 'left', textVerticalAlign: 'middle' }, (opt && opt.style) || {})
}, (opt && opt.el) || {});
const vtxt = (x, y, text) => txt(x, y, text, { el: { rotation: Math.PI / 2 }, style: { textAlign: 'center' } });
const letter = (x, y, t) => txt(x, y, t, { style: { font: 'italic 30px ' + FONT, textAlign: 'center' } });

const graphics = [
  letter(20, 22, 'A'), letter(676, 22, 'B'), letter(20, 737, 'C'), letter(348, 737, 'D'), letter(673, 737, 'E'),
  txt(97, 25, 'Complex spike frequency'), txt(97, 240, 'Simple spike frequency'), txt(97, 463, 'Simple spike CV2'),
  txt(762, 25, 'Complex spike frequency'), txt(762, 240, 'Simple spike frequency'), txt(762, 463, 'Simple spike CV2'),
  txt(621, 25, 'Purkinje cell 1', { style: { textAlign: 'right' } }),
  txt(1281, 25, 'Purkinje cell 2', { style: { textAlign: 'right' } }),
  txt(97, 171, 'Not licking'),
  txt(620, 171, 'Licking', { style: { textAlign: 'right' } }),
  { type: 'line', silent: true, z: 50, shape: { x1: 209, y1: 171, x2: 235, y2: 171 }, style: { stroke: '#000', lineWidth: 1.8 } },
  { type: 'polygon', silent: true, z: 50, shape: { points: [[203, 171], [212, 167], [212, 175]] }, style: { fill: '#000' } },
  { type: 'line', silent: true, z: 50, shape: { x1: 516, y1: 171, x2: 542, y2: 171 }, style: { stroke: '#000', lineWidth: 1.8 } },
  { type: 'polygon', silent: true, z: 50, shape: { points: [[548, 171], [539, 167], [539, 175]] }, style: { fill: '#000' } },
  vtxt(20, 115, 'No. of intervals'), vtxt(20, 332, 'No. of intervals'), vtxt(20, 553, 'No. of intervals'),
  vtxt(676, 115, 'No. of intervals'), vtxt(676, 332, 'No. of intervals'), vtxt(676, 553, 'No. of intervals'),
  txt(352, 694, 'SHAP value', { style: { textAlign: 'center' } }),
  txt(1013, 694, 'SHAP value', { style: { textAlign: 'center' } }),
  // feature-value colour bar
  { type: 'rect', silent: true, z: 40, shape: { x: 590, y: 262, width: 18, height: 70 },
    style: { fill: new echarts.graphic.LinearGradient(0, 0, 0, 1, [{ offset: 0, color: '#ff0000' }, { offset: 1, color: '#4a0000' }]) } },
  { type: 'rect', silent: true, z: 40, shape: { x: 590, y: 332, width: 18, height: 70 },
    style: { fill: new echarts.graphic.LinearGradient(0, 0, 0, 1, [{ offset: 0, color: '#00004a' }, { offset: 1, color: '#0000ff' }]) } },
  // panel C labels
  vtxt(21, 860, 'Inter-bout accuracy (%)'),
  txt(194, 1020, 'Bout accuracy (%)', { style: { textAlign: 'center' } }),
  txt(302, 760, 'Strongly', { style: { textAlign: 'right' } }),
  txt(302, 780, 'predictive', { style: { textAlign: 'right' } }),
  txt(299, 901, 'Predictive', { style: { textAlign: 'right' } }),
  txt(302, 931, 'Non-', { style: { textAlign: 'right' } }),
  txt(302, 953, 'predictive', { style: { textAlign: 'right' } }),
  // panel D labels
  vtxt(348, 860, 'SS CV2 (|SHAP value|)'),
  txt(503, 1020, 'SS freq. (|SHAP value|)', { style: { textAlign: 'center' } }),
  // panel E labels
  vtxt(677, 860, '|SHAP value|')
];
const eCenters = [830, 1011, 1192];
eClasses.forEach((name, k) => {
  name.split('\n').forEach((line, j) => {
    graphics.push(txt(eCenters[k], 760 + j * 21, line, { style: { textAlign: 'center' } }));
  });
});
const pStarts = [809, 991, 1173];
ePValues.forEach((pv, k) => {
  graphics.push({
    type: 'text', x: pStarts[k], y: 954, silent: true, z: 50,
    style: {
      text: '{i|P} ' + pv, fill: INK, font: FS + 'px ' + FONT, textAlign: 'left', textVerticalAlign: 'middle',
      rich: { i: { fontStyle: 'italic', fontSize: FS, fontFamily: FONT, fill: INK } }
    }
  });
});

chart.setOption({
  animation: false,
  backgroundColor: '#ffffff',
  textStyle: { fontFamily: FONT },
  grid: grids,
  xAxis: xAxes,
  yAxis: yAxes,
  series,
  graphic: { elements: graphics }
});
</script>
</body>
</html>
